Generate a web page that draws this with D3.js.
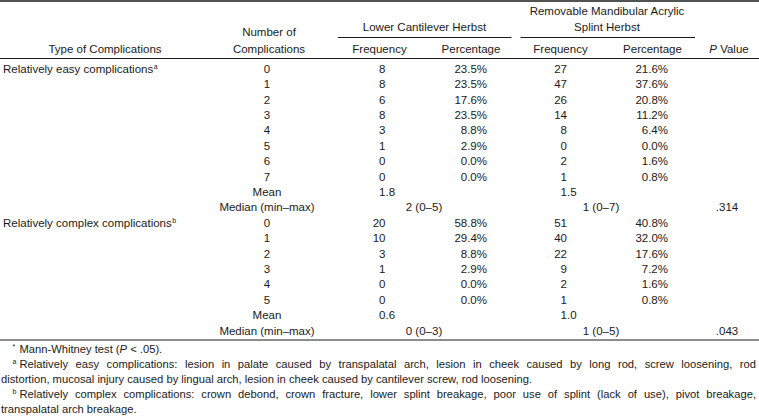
<!DOCTYPE html>
<html><head><meta charset="utf-8">
<script src="https://cdn.jsdelivr.net/npm/d3@7"></script>
<style>
body{margin:0;background:#fff}
text{font-family:"Liberation Sans",Arial,Helvetica,sans-serif;font-size:11.5px;fill:#1a1a1a}
text.fn{font-size:11.2px}
</style>
</head><body>
<svg id="c" width="759" height="416"></svg>
<script>
// ---------- data ----------
const groupLabels = ["Relatively easy complications", "Relatively complex complications"];
const groupMarks = ["a", "b"];
const easyCounts = ["0","1","2","3","4","5","6","7"];
const easyLowerFreq = ["8","8","6","8","3","1","0","0"];
const easyLowerPct = ["23.5%","23.5%","17.6%","23.5%","8.8%","2.9%","0.0%","0.0%"];
const easyRemovFreq = ["27","47","26","14","8","0","2","1"];
const easyRemovPct = ["21.6%","37.6%","20.8%","11.2%","6.4%","0.0%","1.6%","0.8%"];
const complexCounts = ["0","1","2","3","4","5"];
const complexLowerFreq = ["20","10","3","1","0","0"];
const complexLowerPct = ["58.8%","29.4%","8.8%","2.9%","0.0%","0.0%"];
const complexRemovFreq = ["51","40","22","9","2","1"];
const complexRemovPct = ["40.8%","32.0%","17.6%","7.2%","1.6%","0.8%"];
const meanLower = ["1.8","0.6"];
const meanRemov = ["1.5","1.0"];
const medianLower = ["2 (0–5)","0 (0–3)"];
const medianRemov = ["1 (0–7)","1 (0–5)"];
const pValues = [".314",".043"];
const statLabels = ["Mean","Median (min–max)"];
const colHeaders = ["Type of Complications","Frequency","Percentage","Frequency","Percentage"];
const groupHeaders = ["Lower Cantilever Herbst", "Removable Mandibular Acrylic", "Splint Herbst"];
const footnotes = [
  {mark:"*", parts:[["Mann-Whitney test (",""],["P","i"],[" < .05).",""]], justify:false, indent:true},
  {mark:"a", parts:[["Relatively easy complications: lesion in palate caused by transpalatal arch, lesion in cheek caused by long rod, screw loosening, rod",""]], justify:true, indent:true},
  {mark:"", parts:[["distortion, mucosal injury caused by lingual arch, lesion in cheek caused by cantilever screw, rod loosening.",""]], justify:false, indent:false},
  {mark:"b", parts:[["Relatively complex complications: crown debond, crown fracture, lower splint breakage, poor use of splint (lack of use), pivot breakage,",""]], justify:true, indent:true},
  {mark:"", parts:[["transpalatal arch breakage.",""]], justify:false, indent:false}
];

// ---------- build rows ----------
const rows = [];
const groupsData = [
  [easyCounts, easyLowerFreq, easyLowerPct, easyRemovFreq, easyRemovPct],
  [complexCounts, complexLowerFreq, complexLowerPct, complexRemovFreq, complexRemovPct]
];
groupsData.forEach((g, gi) => {
  g[0].forEach((n, i) => {
    rows.push({type: i === 0 ? groupLabels[gi] : "", mark: i === 0 ? groupMarks[gi] : "",
      num: n, lf: g[1][i], lp: g[2][i], rf: g[3][i], rp: g[4][i], lm: "", rm: "", p: ""});
  });
  rows.push({type:"", mark:"", num: statLabels[0], lf: meanLower[gi], rf: meanRemov[gi], lp:"", rp:"", lm:"", rm:"", p:""});
  rows.push({type:"", mark:"", num: statLabels[1], lf:"", rf:"", lp:"", rp:"", lm: medianLower[gi], rm: medianRemov[gi], p: pValues[gi]});
});

// ---------- scales ----------
const svg = d3.select("#c");
svg.append("rect").attr("width",759).attr("height",416).attr("fill","#fff");

const y = d3.scaleLinear().domain([0, rows.length - 1]).range([72.8, 72.8 + (rows.length - 1) * 15.4]);
const colKeys = ["type","num","lf","lp","lm","rf","rp","rm","p"];
const colX = d3.scaleOrdinal().domain(colKeys).range([3, 267, 385.5, 487, 424, 567, 668, 601, 727]);
const colAnchor = {type:"start", num:"middle", lf:"dec", lp:"end", lm:"middle", rf:"dec", rp:"end", rm:"middle", p:"middle"};

// ---------- rules ----------
function hline(x1, x2, yy, w) {
  svg.append("line").attr("x1",x1).attr("x2",x2).attr("y1",yy).attr("y2",yy)
    .attr("stroke","#1a1a1a").attr("stroke-width",w);
}
hline(0, 759, 1, 1.6);
hline(338, 511.5, 37.5, 1);
hline(520.5, 695, 37.5, 1);
hline(0, 759, 58.5, 1);
hline(0, 759, 340, 1);

// ---------- header ----------
function txt(x, yy, s, anchor) {
  return svg.append("text").attr("x",x).attr("y",yy).attr("text-anchor",anchor||"middle").text(s);
}
txt(424.5, 30.5, groupHeaders[0]);
txt(607, 15, groupHeaders[1]);
txt(607, 30.5, groupHeaders[2]);
txt(269, 36, "Number of");
txt(269, 52.5, "Complications");
txt(105, 52.5, colHeaders[0]);
txt(379.5, 52.5, colHeaders[1]);
txt(471, 52.5, colHeaders[2]);
txt(560.5, 52.5, colHeaders[3]);
txt(652.5, 52.5, colHeaders[4]);
const ph = svg.append("text").attr("x",729).attr("y",52.5).attr("text-anchor","middle");
ph.append("tspan").attr("font-style","italic").text("P");
ph.append("tspan").text(" Value");

// ---------- body ----------
const rowG = svg.selectAll("g.row").data(rows).join("g").attr("class","row")
  .attr("transform", (d, i) => `translate(0,${y(i)})`);

colKeys.forEach(k => {
  rowG.each(function(d) {
    const v = d[k];
    if (!v) return;
    const g = d3.select(this);
    const x = colX(k);
    if (colAnchor[k] === "dec") {
      const idx = v.indexOf(".");
      const ip = idx < 0 ? v : v.slice(0, idx);
      const fp = idx < 0 ? "" : v.slice(idx);
      g.append("text").attr("x", x).attr("text-anchor","end").text(ip);
      if (fp) g.append("text").attr("x", x).attr("text-anchor","start").text(fp);
    } else {
      const t = g.append("text").attr("x", x).attr("text-anchor", colAnchor[k]).text(v);
      if (k === "type" && d.mark) {
        t.append("tspan").style("font-size","7px").attr("dy",-4).attr("dx",0.5).text(d.mark);
      }
    }
  });
});

// ---------- footnotes ----------
const fy = d3.scaleLinear().domain([0, footnotes.length - 1]).range([353, 412.6]);
footnotes.forEach((f, i) => {
  const yy = fy(i);
  if (f.mark) {
    svg.append("text").attr("x", 12.5).attr("y", yy - 4).style("font-size","7px").text(f.mark);
  }
  const x0 = f.indent ? 19.5 : 1;
  const t = svg.append("text").attr("class","fn").attr("x", x0).attr("y", yy);
  f.parts.forEach(p => {
    const ts = t.append("tspan").text(p[0]);
    if (p[1] === "i") ts.attr("font-style","italic");
  });
  if (f.justify) {
    const w = t.node().getComputedTextLength();
    const target = 756 - x0;
    const spaces = (f.parts.map(p => p[0]).join("").match(/ /g) || []).length;
    if (spaces > 0 && target > w) t.attr("word-spacing", (target - w) / spaces);
  }
});
</script>
</body></html>
